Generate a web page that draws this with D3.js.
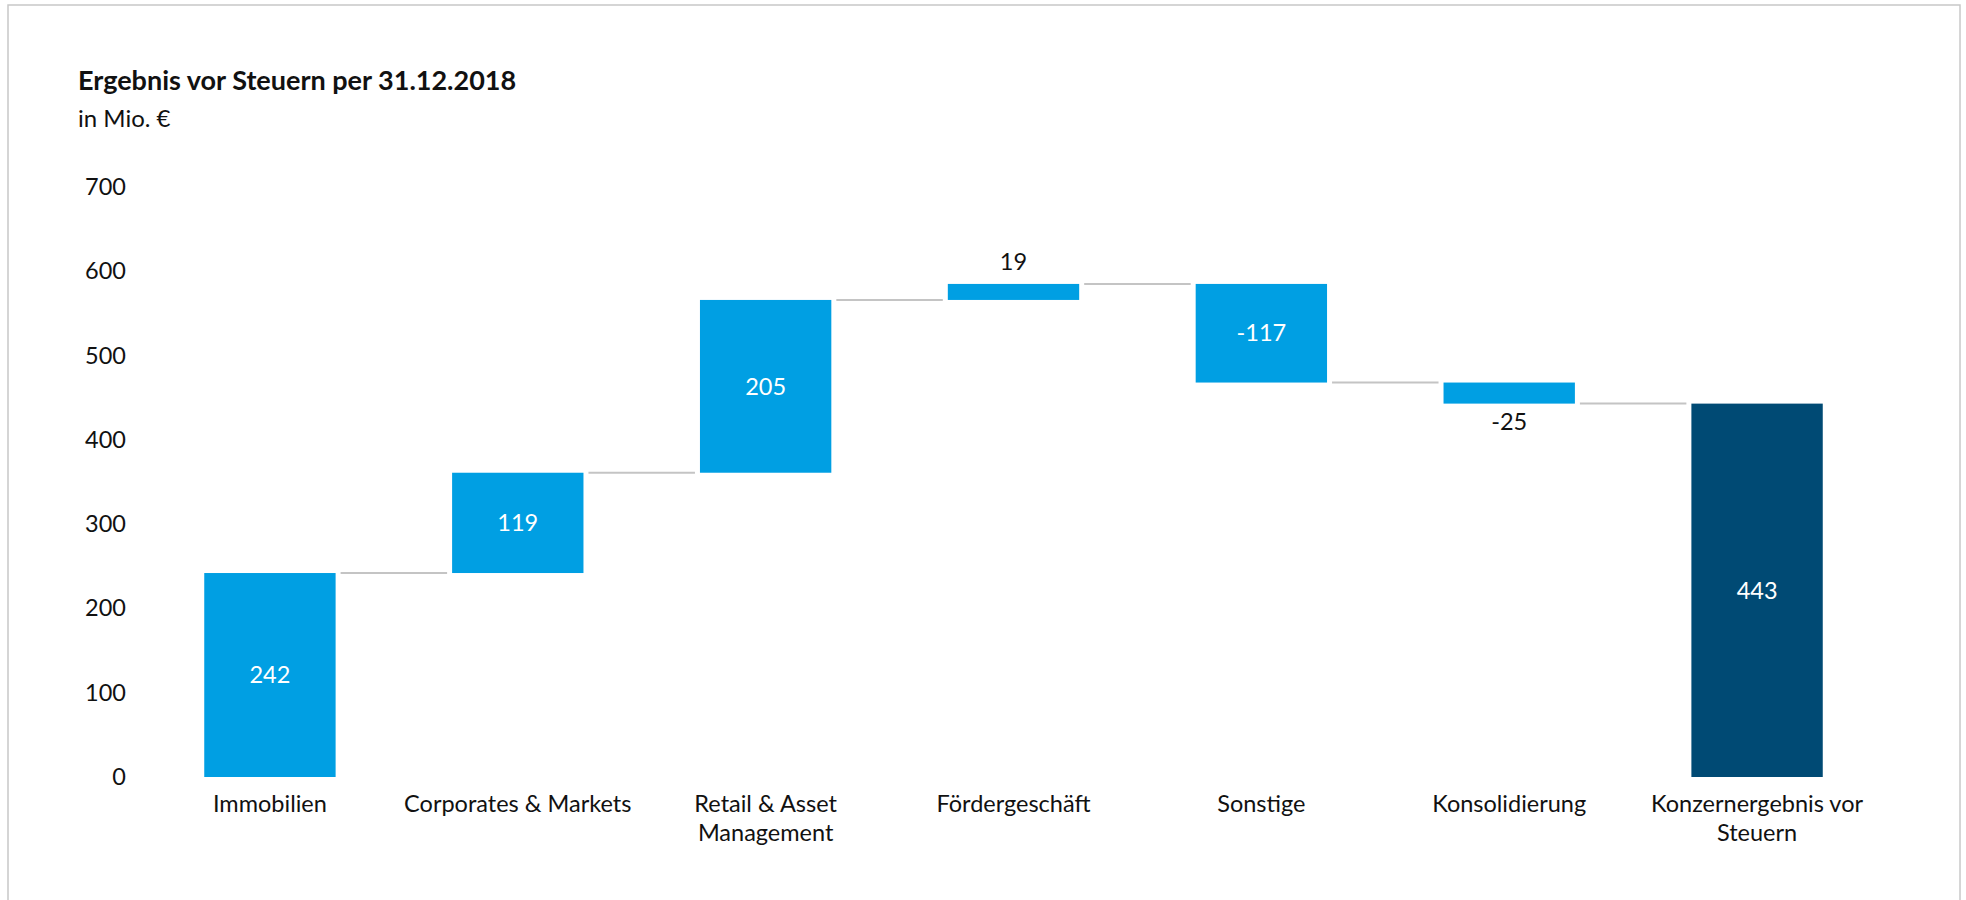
<!DOCTYPE html>
<html>
<head>
<meta charset="utf-8">
<script src="https://cdn.jsdelivr.net/npm/d3@7"></script>
<style>
  html, body { margin: 0; padding: 0; background: #fff; }
  svg { display: block; }
  text { font-family: "Lato", "Open Sans", sans-serif; fill: #111; }
</style>
</head>
<body>
<svg id="chart" width="1966" height="900"></svg>
<script>
// Waterfall: pre-tax result by segment, in EUR million
const categories = ["Immobilien", "Corporates & Markets", "Retail & Asset\nManagement",
  "Fördergeschäft", "Sonstige", "Konsolidierung", "Konzernergebnis vor\nSteuern"];
const deltas = [242, 119, 205, 19, -117, -25, 443];
const isTotal = [false, false, false, false, false, false, true];
const labelInside = [true, true, true, false, true, false, true];
const yTicks = [0, 100, 200, 300, 400, 500, 600, 700];

const titleText = "Ergebnis vor Steuern per 31.12.2018";
const subtitleText = "in Mio. €";

const svg = d3.select("#chart");
const W = 1966, H = 900;
const labelSize = 23.5;

// frame
svg.append("rect")
  .attr("x", 8).attr("y", 5)
  .attr("width", 1952).attr("height", H + 20)
  .attr("fill", "none").attr("stroke", "#c8c8c8").attr("stroke-width", 1.5);

// title block
svg.append("text").attr("x", 78).attr("y", 90)
  .attr("font-size", 27).attr("font-weight", 700).text(titleText);
svg.append("text").attr("x", 78).attr("y", 127)
  .attr("font-size", 24).text(subtitleText);

// running totals -> bar extents
let run = 0;
const bars = categories.map((c, i) => {
  let y0, y1;
  if (isTotal[i]) { y0 = 0; y1 = deltas[i]; run = deltas[i]; }
  else { y0 = run; y1 = run + deltas[i]; run = y1; }
  return { cat: c, v: deltas[i], lo: Math.min(y0, y1), hi: Math.max(y0, y1), end: y1, total: isTotal[i], inside: labelInside[i] };
});

const x = d3.scaleBand().domain(categories).range([146, 1881])
  .paddingInner(0.47).paddingOuter(0.235);
const y = d3.scaleLinear().domain([0, 700]).range([777, 187]);

// y axis labels only
const yAxis = svg.append("g").attr("transform", "translate(126,0)")
  .call(d3.axisLeft(y).tickValues(yTicks).tickSize(0).tickPadding(0).tickFormat(d3.format("d")));
yAxis.select(".domain").remove();
yAxis.selectAll("text").attr("font-size", labelSize).attr("font-family", "Lato, 'Open Sans', sans-serif").attr("fill", "#111");

// connectors between consecutive bars
const gap = 5;
svg.append("g").selectAll("line")
  .data(bars.slice(0, -1))
  .join("line")
  .attr("x1", (d, i) => x(categories[i]) + x.bandwidth() + gap)
  .attr("x2", (d, i) => x(categories[i + 1]) - gap)
  .attr("y1", d => y(d.end)).attr("y2", d => y(d.end))
  .attr("stroke", "#c4c4c4").attr("stroke-width", 2);

// bars
svg.append("g").selectAll("rect")
  .data(bars)
  .join("rect")
  .attr("x", d => x(d.cat))
  .attr("width", x.bandwidth())
  .attr("y", d => y(d.hi))
  .attr("height", d => y(d.lo) - y(d.hi))
  .attr("fill", d => d.total ? "#004a74" : "#009fe3");

// value labels
svg.append("g").selectAll("text")
  .data(bars)
  .join("text")
  .attr("x", d => x(d.cat) + x.bandwidth() / 2)
  .attr("y", d => {
    if (d.inside) return (y(d.hi) + y(d.lo)) / 2;
    return d.v >= 0 ? y(d.hi) - 22 : y(d.lo) + 18;
  })
  .attr("dy", "0.35em")
  .attr("text-anchor", "middle")
  .attr("font-size", labelSize)
  .style("fill", d => d.inside ? "#fff" : "#111")
  .text(d => d.v);

// category labels
const catG = svg.append("g").selectAll("text")
  .data(categories)
  .join("text")
  .attr("x", d => x(d) + x.bandwidth() / 2)
  .attr("y", 812)
  .attr("text-anchor", "middle")
  .attr("font-size", labelSize);
catG.selectAll("tspan")
  .data(d => d.split("\n"))
  .join("tspan")
  .attr("x", function () { return d3.select(this.parentNode).attr("x"); })
  .attr("dy", (d, i) => i === 0 ? 0 : 29)
  .text(d => d);
</script>
</body>
</html>
